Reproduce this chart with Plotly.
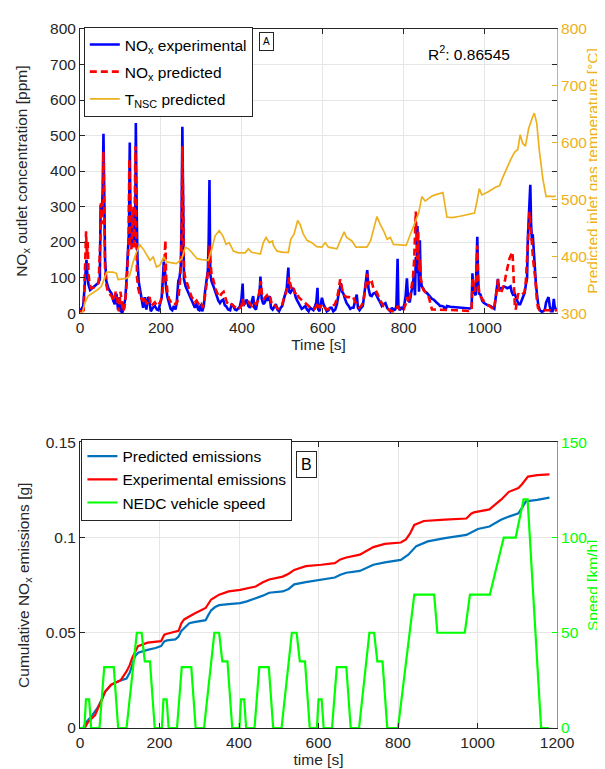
import plotly.graph_objects as go

# ---------------- Panel A data ----------------
nox_exp_pts = [(0,8),(4,12),(8,20),(11,60),(14,120),(16,150),(18,110),(21,80),(25,65),(30,70),(37,75),(45,85),(49,95),(51,305),(54,290),(56,340),(58,505),(60,300),(62,150),(65,90),(70,70),(75,60),(78,55),(82,35),(86,25),(90,55),(94,10),(98,45),(101,5),(105,3),(108,20),(112,40),(115,95),(119,170),(121,230),(123,480),(125,250),(128,185),(131,220),(133,295),(135,200),(137,330),(138,535),(140,300),(142,155),(145,90),(148,70),(152,40),(156,15),(160,45),(164,10),(168,45),(171,40),(175,5),(180,15),(185,20),(190,10),(194,8),(198,30),(202,45),(205,100),(207,145),(210,120),(212,80),(216,45),(220,30),(224,12),(228,8),(232,20),(236,10),(239,28),(243,90),(246,100),(249,130),(251,250),(253,525),(255,200),(257,95),(261,75),(265,65),(268,60),(272,50),(276,40),(280,25),(284,15),(289,28),(292,10),(295,8),(299,25),(302,5),(306,20),(309,60),(313,95),(316,120),(318,200),(320,375),(322,110),(325,90),(330,75),(334,60),(338,45),(342,35),(346,28),(350,35),(354,38),(358,22),(362,18),(366,10),(371,8),(375,25),(379,20),(383,10),(387,8),(391,12),(395,18),(399,40),(402,83),(404,20),(408,30),(412,38),(416,20),(420,15),(424,30),(428,48),(431,15),(435,10),(438,30),(441,48),(444,60),(446,103),(449,40),(453,25),(457,30),(461,45),(465,35),(469,48),(472,15),(476,10),(480,20),(484,25),(488,10),(492,5),(496,15),(500,20),(504,40),(508,57),(511,70),(515,128),(517,60),(520,57),(524,65),(527,71),(530,60),(533,45),(537,35),(540,29),(544,20),(548,12),(552,15),(557,20),(561,10),(565,5),(569,15),(573,10),(577,8),(581,20),(584,30),(587,71),(589,10),(592,5),(596,30),(598,43),(602,25),(606,15),(610,5),(614,8),(618,15),(622,15),(626,5),(631,10),(635,25),(639,52),(642,70),(645,84),(648,60),(651,55),(655,40),(659,28),(664,20),(668,12),(672,15),(676,15),(680,35),(684,52),(687,15),(691,8),(695,15),(699,20),(703,55),(706,90),(710,121),(713,70),(717,50),(721,48),(725,55),(730,57),(734,45),(738,38),(742,30),(746,20),(750,25),(755,28),(759,15),(763,10),(767,5),(771,15),(775,8),(779,10),(782,20),(785,153),(787,20),(790,8),(794,15),(798,12),(802,25),(805,50),(808,98),(811,40),(815,30),(819,60),(822,75),(825,103),(828,50),(830,158),(832,112),(834,245),(836,150),(838,60),(840,205),(842,94),(845,75),(849,66),(853,60),(857,57),(861,52),(866,43),(870,40),(874,38),(878,32),(882,29),(886,25),(890,20),(895,20),(899,18),(903,8),(907,20),(915,18),(923,17),(931,16),(940,16),(948,15),(956,14),(964,13),(968,15),(970,112),(972,60),(975,57),(978,50),(980,110),(982,215),(984,100),(986,55),(990,52),(994,35),(998,29),(1003,25),(1008,22),(1014,20),(1020,15),(1024,12),(1028,48),(1031,70),(1033,96),(1036,66),(1040,70),(1044,71),(1048,75),(1052,73),(1056,70),(1060,72),(1064,75),(1067,60),(1070,52),(1074,55),(1077,45),(1080,34),(1084,25),(1088,25),(1092,39),(1096,50),(1099,57),(1102,80),(1105,98),(1107,213),(1110,300),(1113,361),(1115,250),(1117,204),(1119,222),(1121,180),(1124,139),(1127,80),(1130,48),(1133,20),(1137,8),(1141,4),(1145,5),(1149,10),(1152,30),(1155,39),(1158,45),(1161,20),(1164,5),(1168,5),(1171,40),(1173,20),(1176,10),(1179,12)]

nox_pred_pts = [(0,5),(5,5),(9,8),(11,60),(13,150),(15,230),(17,160),(19,200),(21,110),(24,80),(28,70),(34,72),(40,78),(46,85),(50,200),(52,310),(54,250),(56,300),(58,455),(60,280),(62,120),(65,80),(68,65),(72,55),(76,50),(80,45),(84,35),(88,60),(92,40),(96,5),(100,60),(103,30),(106,5),(110,15),(114,60),(117,120),(120,200),(122,435),(124,200),(127,180),(130,250),(132,300),(134,180),(136,400),(137,470),(139,250),(141,100),(144,70),(148,50),(152,40),(156,35),(160,45),(164,25),(168,30),(172,45),(176,20),(180,25),(185,30),(190,20),(195,25),(200,35),(204,60),(207,100),(209,150),(211,205),(213,100),(216,60),(220,40),(224,30),(228,25),(232,28),(236,25),(240,30),(244,50),(248,100),(251,200),(253,470),(255,300),(257,120),(260,100),(264,85),(268,70),(272,55),(276,45),(280,40),(284,30),(288,35),(292,25),(296,20),(300,25),(304,15),(308,40),(312,70),(315,100),(318,140),(320,190),(322,150),(325,110),(328,100),(332,80),(336,65),(340,55),(345,45),(350,55),(355,60),(359,45),(363,30),(367,25),(371,20),(375,25),(380,20),(385,15),(390,10),(395,15),(399,20),(402,40),(405,25),(410,30),(415,35),(420,25),(425,20),(430,30),(435,25),(440,35),(444,60),(447,90),(450,50),(454,40),(458,45),(462,50),(466,40),(470,45),(474,25),(478,20),(482,22),(486,15),(490,12),(495,18),(500,25),(505,45),(510,60),(514,80),(517,100),(520,80),(524,65),(528,70),(532,55),(536,60),(540,45),(545,40),(550,35),(555,30),(560,25),(565,20),(570,15),(575,10),(580,12),(585,20),(588,30),(592,15),(596,20),(600,25),(605,15),(610,10),(615,12),(620,15),(625,20),(630,25),(635,40),(640,70),(643,95),(646,80),(650,55),(655,48),(660,45),(665,45),(670,42),(675,45),(680,30),(685,20),(690,15),(695,20),(700,30),(704,60),(707,90),(710,110),(713,80),(717,95),(721,90),(725,70),(730,65),(735,55),(740,40),(745,30),(750,20),(755,18),(760,12),(765,8),(770,5),(775,5),(780,8),(785,20),(790,10),(795,8),(800,10),(805,25),(808,45),(812,30),(816,50),(820,80),(823,100),(826,150),(828,230),(830,286),(832,200),(834,150),(836,230),(838,120),(840,150),(842,100),(845,80),(849,65),(853,60),(858,55),(862,45),(866,25),(870,10),(875,10),(900,10),(930,8),(960,6),(968,8),(970,100),(973,80),(976,60),(979,90),(982,190),(984,90),(987,55),(991,45),(996,35),(1000,30),(1006,25),(1012,20),(1018,15),(1023,10),(1027,40),(1030,80),(1033,95),(1036,60),(1040,55),(1045,70),(1050,90),(1054,115),(1058,135),(1062,155),(1066,165),(1069,172),(1071,120),(1073,60),(1075,15),(1077,10),(1080,40),(1083,55),(1087,50),(1091,50),(1095,55),(1099,60),(1102,90),(1105,150),(1108,230),(1111,285),(1114,240),(1117,180),(1120,150),(1123,120),(1126,90),(1129,40),(1132,15),(1136,8),(1140,8),(1160,8),(1179,8)]

t_nsc_pts = [(6,300),(12,318),(20,330),(33,336),(45,342),(53,347),(61,364),(66,372),(82,372),(90,370),(94,359),(107,361),(115,361),(123,367),(130,387),(138,404),(148,420),(156,413),(164,404),(173,393),(181,399),(189,381),(197,384),(207,399),(214,390),(226,388),(238,387),(243,390),(252,396),(260,416),(268,413),(276,407),(289,396),(301,394),(317,393),(326,413),(334,436),(344,445),(353,436),(361,421),(369,424),(379,409),(391,406),(408,406),(416,413),(424,407),(446,404),(453,424),(460,433),(468,424),(476,427),(478,419),(487,409),(503,407),(515,407),(521,430),(529,439),(538,463),(544,456),(552,439),(561,428),(573,424),(585,417),(598,416),(606,424),(614,416),(635,413),(643,427),(653,443),(659,433),(672,427),(682,416),(705,415),(709,416),(718,427),(726,450),(734,470),(742,456),(751,444),(759,430),(767,433),(775,421),(792,420),(806,419),(812,430),(820,444),(829,462),(837,476),(845,505),(853,497),(862,502),(870,506),(882,509),(897,512),(907,469),(919,468),(936,470),(956,473),(975,476),(981,496),(987,519),(993,508),(1008,513),(1028,522),(1037,524),(1045,539),(1053,553),(1065,571),(1074,583),(1082,588),(1088,614),(1094,599),(1101,594),(1109,625),(1119,646),(1123,652),(1129,634),(1135,588),(1144,536),(1152,505),(1160,506),(1168,505),(1176,506)]

r2_text = "R<sup>2</sup>: 0.86545"

# ---------------- Panel B data ----------------
pred_cum_pts = [(8,0),(15,0.003),(30,0.0065),(44,0.0105),(55,0.015),(63,0.019),(78,0.0225),(88,0.0238),(102,0.025),(113,0.0255),(117,0.026),(125,0.029),(131,0.033),(138,0.0375),(146,0.0395),(160,0.0405),(170,0.041),(190,0.042),(204,0.043),(212,0.0455),(219,0.046),(240,0.0465),(248,0.048),(255,0.051),(262,0.0526),(275,0.055),(287,0.0556),(300,0.056),(316,0.0566),(322,0.059),(330,0.0618),(340,0.0635),(350,0.0645),(374,0.065),(403,0.0656),(420,0.0665),(442,0.068),(460,0.0695),(476,0.071),(510,0.0717),(525,0.073),(539,0.0754),(568,0.0766),(607,0.078),(641,0.079),(655,0.0805),(670,0.0815),(704,0.0825),(720,0.084),(738,0.0857),(767,0.087),(807,0.0883),(826,0.091),(834,0.093),(846,0.0955),(875,0.098),(918,0.0997),(972,0.1014),(990,0.1035),(1001,0.1045),(1030,0.1058),(1050,0.1085),(1059,0.1093),(1079,0.111),(1103,0.1127),(1113,0.116),(1122,0.119),(1150,0.1198),(1181,0.121)]

exp_cum_pts = [(12,0),(20,0.003),(38,0.0068),(44,0.0096),(55,0.015),(63,0.019),(78,0.0227),(102,0.025),(117,0.0297),(125,0.033),(131,0.0367),(140,0.041),(146,0.043),(170,0.0448),(204,0.0456),(212,0.049),(219,0.0495),(248,0.051),(255,0.055),(262,0.057),(287,0.060),(316,0.063),(325,0.066),(330,0.0675),(350,0.070),(374,0.0717),(403,0.0725),(442,0.0743),(460,0.0765),(476,0.078),(510,0.0795),(525,0.081),(539,0.083),(568,0.085),(607,0.0857),(641,0.0866),(655,0.0885),(670,0.0895),(704,0.091),(720,0.093),(738,0.095),(767,0.0967),(807,0.0974),(820,0.099),(830,0.102),(841,0.1066),(865,0.1087),(918,0.1094),(972,0.110),(984,0.1125),(991,0.1132),(1030,0.1148),(1050,0.118),(1060,0.120),(1079,0.124),(1103,0.126),(1112,0.128),(1127,0.132),(1150,0.1328),(1181,0.1332)]

speed_t = [0,11,15,23,28,49,61,85,96,117,143,155,163,176,188,
           206,210,218,223,244,256,280,291,312,338,350,358,371,383,
           401,405,413,418,439,451,475,486,507,533,545,553,566,578,
           596,600,608,613,634,646,670,681,702,728,740,748,761,773,
           800,841,891,899,968,981,1031,1066,1096,1116,1126,1160,1180]
speed_v = [0,0,15,15,0,0,32,32,0,0,50,50,35,35,0,
           0,15,15,0,0,32,32,0,0,50,50,35,35,0,
           0,15,15,0,0,32,32,0,0,50,50,35,35,0,
           0,15,15,0,0,32,32,0,0,50,50,35,35,0,
           0,70,70,50,50,70,70,100,100,120,120,0,0]


def split(pts):
    return [p[0] for p in pts], [p[1] for p in pts]


FONT = "Liberation Sans, Arial, Helvetica, sans-serif"
TXT = "#262626"
ORANGE = "#EDB120"
GREEN = "#00FF00"
FS = 15.5

fig = go.Figure()

tx, vy = split(nox_exp_pts)
fig.add_trace(go.Scatter(x=tx, y=vy, mode="lines", name="NO<sub>x</sub> experimental", legendgroup="a1",
                         line=dict(color="#0000FF", width=2.6), xaxis="x", yaxis="y", legend="legend"))
tx, vy = split(nox_pred_pts)
fig.add_trace(go.Scatter(x=tx, y=vy, mode="lines", name="NO<sub>x</sub> predicted", legendgroup="a2",
                         line=dict(color="#FF0000", width=2.6, dash="7px,4px"), xaxis="x", yaxis="y", legend="legend"))
tx, vy = split(t_nsc_pts)
fig.add_trace(go.Scatter(x=tx, y=vy, mode="lines", name="T<sub>NSC</sub> predicted", legendgroup="a3",
                         line=dict(color=ORANGE, width=1.7), xaxis="x", yaxis="y2", legend="legend"))

tx, vy = split(pred_cum_pts)
fig.add_trace(go.Scatter(x=tx, y=vy, mode="lines", name="Predicted emissions",
                         line=dict(color="#0072BD", width=2.2), xaxis="x2", yaxis="y3", legend="legend2"))
tx, vy = split(exp_cum_pts)
fig.add_trace(go.Scatter(x=tx, y=vy, mode="lines", name="Experimental emissions",
                         line=dict(color="#FF0000", width=2.2), xaxis="x2", yaxis="y3", legend="legend2"))
fig.add_trace(go.Scatter(x=speed_t, y=speed_v, mode="lines", name="NEDC vehicle speed",
                         line=dict(color=GREEN, width=2.2), xaxis="x2", yaxis="y4", legend="legend2"))

common_axis = dict(showline=True, linecolor=TXT, linewidth=1, ticks="inside", ticklen=5,
                   tickcolor=TXT, tickfont=dict(family=FONT, size=FS, color=TXT),
                   showgrid=True, gridcolor="#E6E6E6", gridwidth=1, zeroline=False)

top_dom = [0.5936, 1.0]
bot_dom = [0.0, 0.4087]


def ytitle(text, x, y, color):
    return dict(text=text, x=x, y=y, xref="paper", yref="paper", showarrow=False, textangle=-90,
                font=dict(family=FONT, size=FS, color=color), xanchor="center", yanchor="middle")


fig.update_layout(
    width=605, height=769,
    margin=dict(l=72, r=56, t=21, b=45),
    paper_bgcolor="white", plot_bgcolor="white",
    font=dict(family=FONT, size=FS, color=TXT),
    xaxis=dict(common_axis, domain=[0, 1], anchor="y", range=[0, 1179], dtick=200, mirror="ticks",
               title=dict(text="Time [s]", standoff=4, font=dict(size=FS, color=TXT))),
    yaxis=dict(common_axis, domain=top_dom, anchor="x", range=[0, 800], dtick=100, mirror="ticks"),
    yaxis2=dict(common_axis, overlaying="y", side="right", anchor="x", range=[300, 800], dtick=100,
                showgrid=False, linecolor=ORANGE, tickcolor=ORANGE,
                tickfont=dict(family=FONT, size=FS, color=ORANGE)),
    xaxis2=dict(common_axis, domain=[0, 1], anchor="y3", range=[0, 1200], dtick=200, mirror="ticks",
                title=dict(text="time [s]", standoff=4, font=dict(size=FS, color=TXT))),
    yaxis3=dict(common_axis, domain=bot_dom, anchor="x2", range=[0, 0.15], dtick=0.05, mirror="ticks"),
    yaxis4=dict(common_axis, overlaying="y3", side="right", anchor="x2", range=[0, 150], dtick=50,
                showgrid=False, linecolor=GREEN, tickcolor=GREEN,
                tickfont=dict(family=FONT, size=FS, color=GREEN)),
    legend=dict(x=0.008, y=1.003, xanchor="left", yanchor="top", bgcolor="white",
                bordercolor=TXT, borderwidth=1, font=dict(family=FONT, size=15.5, color="#000000"),
                itemwidth=30, traceorder="grouped", tracegroupgap=4),
    legend2=dict(x=0.003, y=0.414, xanchor="left", yanchor="top", bgcolor="white",
                 bordercolor=TXT, borderwidth=1, font=dict(family=FONT, size=FS, color="#000000"),
                 itemwidth=30, tracegroupgap=0),
    annotations=[
        ytitle("NO<sub>x</sub> outlet concentration [ppm]", -0.122, 0.7968, TXT),
        ytitle("Predicted inlet gas temperature [°C]", 1.073, 0.7968, ORANGE),
        ytitle("Cumulative NO<sub>x</sub> emissions [g]", -0.118, 0.2043, TXT),
        ytitle("Speed [km/h]", 1.073, 0.2043, GREEN),
        dict(text="A", x=0.392, y=0.982, xref="paper", yref="paper", showarrow=False,
             font=dict(family=FONT, size=10, color="#000000"), bordercolor=TXT, borderwidth=1,
             borderpad=3, bgcolor="white", xanchor="center", yanchor="middle"),
        dict(text=r2_text, x=0.815, y=0.965, xref="paper", yref="paper", showarrow=False,
             font=dict(family=FONT, size=FS, color="#000000"), xanchor="center", yanchor="middle"),
        dict(text="B", x=0.475, y=0.377, xref="paper", yref="paper", showarrow=False,
             font=dict(family=FONT, size=16, color="#000000"), bordercolor=TXT, borderwidth=1,
             borderpad=4, bgcolor="white", xanchor="center", yanchor="middle"),
    ],
)

fig.write_html("out.html")
